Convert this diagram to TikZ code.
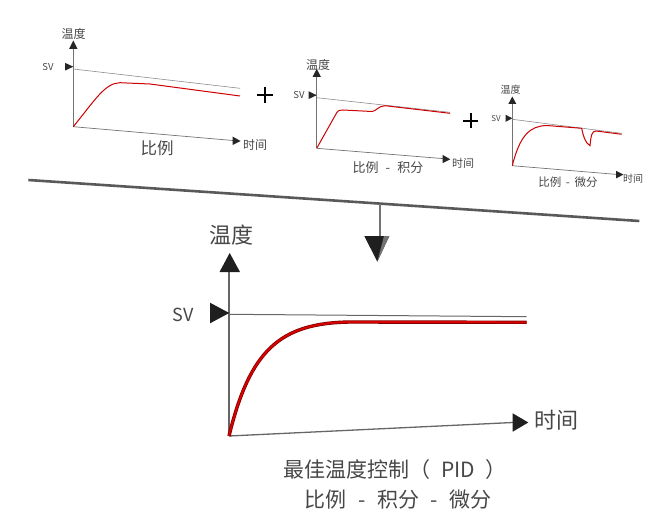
\documentclass[tikz,border=0pt]{standalone}
\usepackage{fontspec}
\setmainfont{Noto Sans CJK SC}
\usepackage{tikz}
\usetikzlibrary{calc}

\tikzset{
  axisline/.style={draw=black!55, line width=0.7pt},
  svline/.style={draw=black!45, line width=0.6pt},
  resp/.style={draw=red!80!black, line width=1pt},
  tipfill/.style={fill=black!85},
  lbl/.style={inner sep=0pt, text=black!72},
}
\newcommand{\dsh}[1]{\hspace{#1em}-\hspace{#1em}}

\begin{document}
\begin{tikzpicture}[x=1pt,y=-1pt]
\useasboundingbox (0,0) rectangle (672,532);
% panel 1 (proportional):
\coordinate (po1) at (73.3,126.7);
\draw[axisline] (po1) -- (73.3,49);
\path[tipfill] (69,49) -- (77.6,49) -- (73.3,40.5) -- cycle;
\draw[axisline] (po1) -- (233,140.5);
\path[tipfill] (232.5,136.5) -- (232.5,145) -- (240.5,141) -- cycle;
\path[tipfill] (65,62.8) -- (65,70.6) -- (73.3,66.7) -- cycle;
\draw[svline] (73.3,69) -- (240,88.3);
\draw[resp] (po1) .. controls (95,100) and (105,83) .. (120,82.7)
  .. controls (135,82.5) .. (150,84) -- (240,96);
\node[lbl, font=\fontsize{12}{12}\selectfont] (ta1) at (73.5,34) {温度};
\node[lbl, font=\fontsize{9.5}{9.5}\selectfont] (sv1) at (48,66.7) {SV};
\node[lbl, font=\fontsize{12}{12}\selectfont] (tx1) at (255,145) {时间};
\node[lbl, font=\fontsize{16.5}{16.5}\selectfont] (nm1) at (157,148) {比例};
% plus 1:
\draw[black, line width=2.6pt] (256.7,95) -- (273.3,95) (265,86.7) -- (265,103.3);
% panel 2 (proportional - integral):
\coordinate (po2) at (316.7,148.3);
\draw[axisline] (po2) -- (316.7,77);
\path[tipfill] (312.5,77) -- (321,77) -- (316.7,68.8) -- cycle;
\draw[axisline] (po2) -- (443,158.6);
\path[tipfill] (442.5,154.8) -- (442.5,163.2) -- (450.3,159.3) -- cycle;
\path[tipfill] (308.6,91.3) -- (308.6,99) -- (316.7,95.2) -- cycle;
\draw[svline] (316.7,97.7) -- (450,112.3);
\draw[resp] (po2) -- (336,114) .. controls (338,110.5) .. (343,110) -- (372,111.5)
  .. controls (376,111.5) and (378,106) .. (385,105.7) -- (450,113.3);
\node[lbl, font=\fontsize{12}{12}\selectfont] (ta2) at (318,65) {温度};
\node[lbl, font=\fontsize{9.5}{9.5}\selectfont] (sv2) at (299,95) {SV};
\node[lbl, font=\fontsize{11}{11}\selectfont] (tx2) at (463,163) {时间};
\node[lbl, font=\fontsize{13}{13}\selectfont] (nm2) at (388,168) {比例\dsh{0.55}积分};
% plus 2:
\draw[black, line width=2.4pt] (463.3,121) -- (478.3,121) (470.8,113.5) -- (470.8,128.5);
% panel 3 (proportional - derivative):
\coordinate (po3) at (512.3,165.7);
\draw[axisline] (po3) -- (512.3,104);
\path[tipfill] (508.3,104) -- (516.3,104) -- (512.3,96.5) -- cycle;
\draw[axisline] (po3) -- (616.5,174.4);
\path[tipfill] (616,170.8) -- (616,178.4) -- (623.5,174.6) -- cycle;
\path[tipfill] (505.5,114.7) -- (505.5,121.9) -- (512.3,118.3) -- cycle;
\draw[svline] (512.3,119.3) -- (621.7,133.3);
\draw[resp] (po3) .. controls (520,135) and (530,126) .. (546.7,125.5) -- (581.7,128.3)
  .. controls (583,135) and (585,143) .. (590,145.7)
  .. controls (591,135) and (592,131) .. (596,131) -- (621.7,134.3);
\node[lbl, font=\fontsize{10}{10}\selectfont] (ta3) at (510.7,90) {温度};
\node[lbl, font=\fontsize{8}{8}\selectfont] (sv3) at (496,118.3) {SV};
\node[lbl, font=\fontsize{10}{10}\selectfont] (tx3) at (633,179) {时间};
\node[lbl, font=\fontsize{11.5}{11.5}\selectfont] (nm3) at (568,181.7) {比例\dsh{0.4}微分};
% separator and arrow:
\coordinate (sl) at (28.3,180);
\coordinate (sr) at (639.3,221);
\draw[black!65, line width=2.6pt] (sl) -- (sr);
\coordinate (stm) at ($(sl)!0.5748!(sr)$);
\draw[black!55, line width=2pt] (stm) -- (stm |- 0,237);
\path[fill=black!88] (364.3,236) -- (389.3,236) -- (377.3,261.7) -- cycle;
\path[fill=black!55] (384,236) -- (389.3,236) -- (377.3,261.7) -- cycle;
% main panel (PID):
\coordinate (po) at (229,436);
\draw[black!60, line width=1.3pt] (po) -- (229,271);
\path[fill=black!88] (219.5,272) -- (240,272) -- (229.7,253) -- cycle;
\draw[black!60, line width=1.3pt] (po) -- (513,422.5);
\path[fill=black!88] (512.7,413.3) -- (512.7,431.7) -- (528.3,422.5) -- cycle;
\path[fill=black!88] (210,302.7) -- (210,323.3) -- (229.3,313) -- cycle;
\draw[black!60, line width=1pt] (229,314.3) -- (526.7,316.7);
\draw[red!45!black, line width=3.4pt] (po) .. controls (250,350) and (280,323) .. (350,322) -- (526.7,322.3);
\draw[red!85!black, line width=2pt] (po) .. controls (250,350) and (280,323) .. (350,322) -- (526.7,322.3);
\node[lbl, font=\fontsize{22}{22}\selectfont] (ta) at (231.7,235) {温度};
\node[lbl, font=\fontsize{18}{18}\selectfont] (sv) at (183.3,315) {SV};
\node[lbl, font=\fontsize{22}{22}\selectfont] (tx) at (556.7,420) {时间};
\node[lbl, font=\fontsize{21}{21}\selectfont] (nm) at (395,470) {最佳温度控制（\hspace{0.5em}PID\hspace{0.5em}）};
\node[lbl, font=\fontsize{21}{21}\selectfont] (nm') at (398,500) {比例\dsh{0.55}积分\dsh{0.55}微分};
\end{tikzpicture}
\end{document}
